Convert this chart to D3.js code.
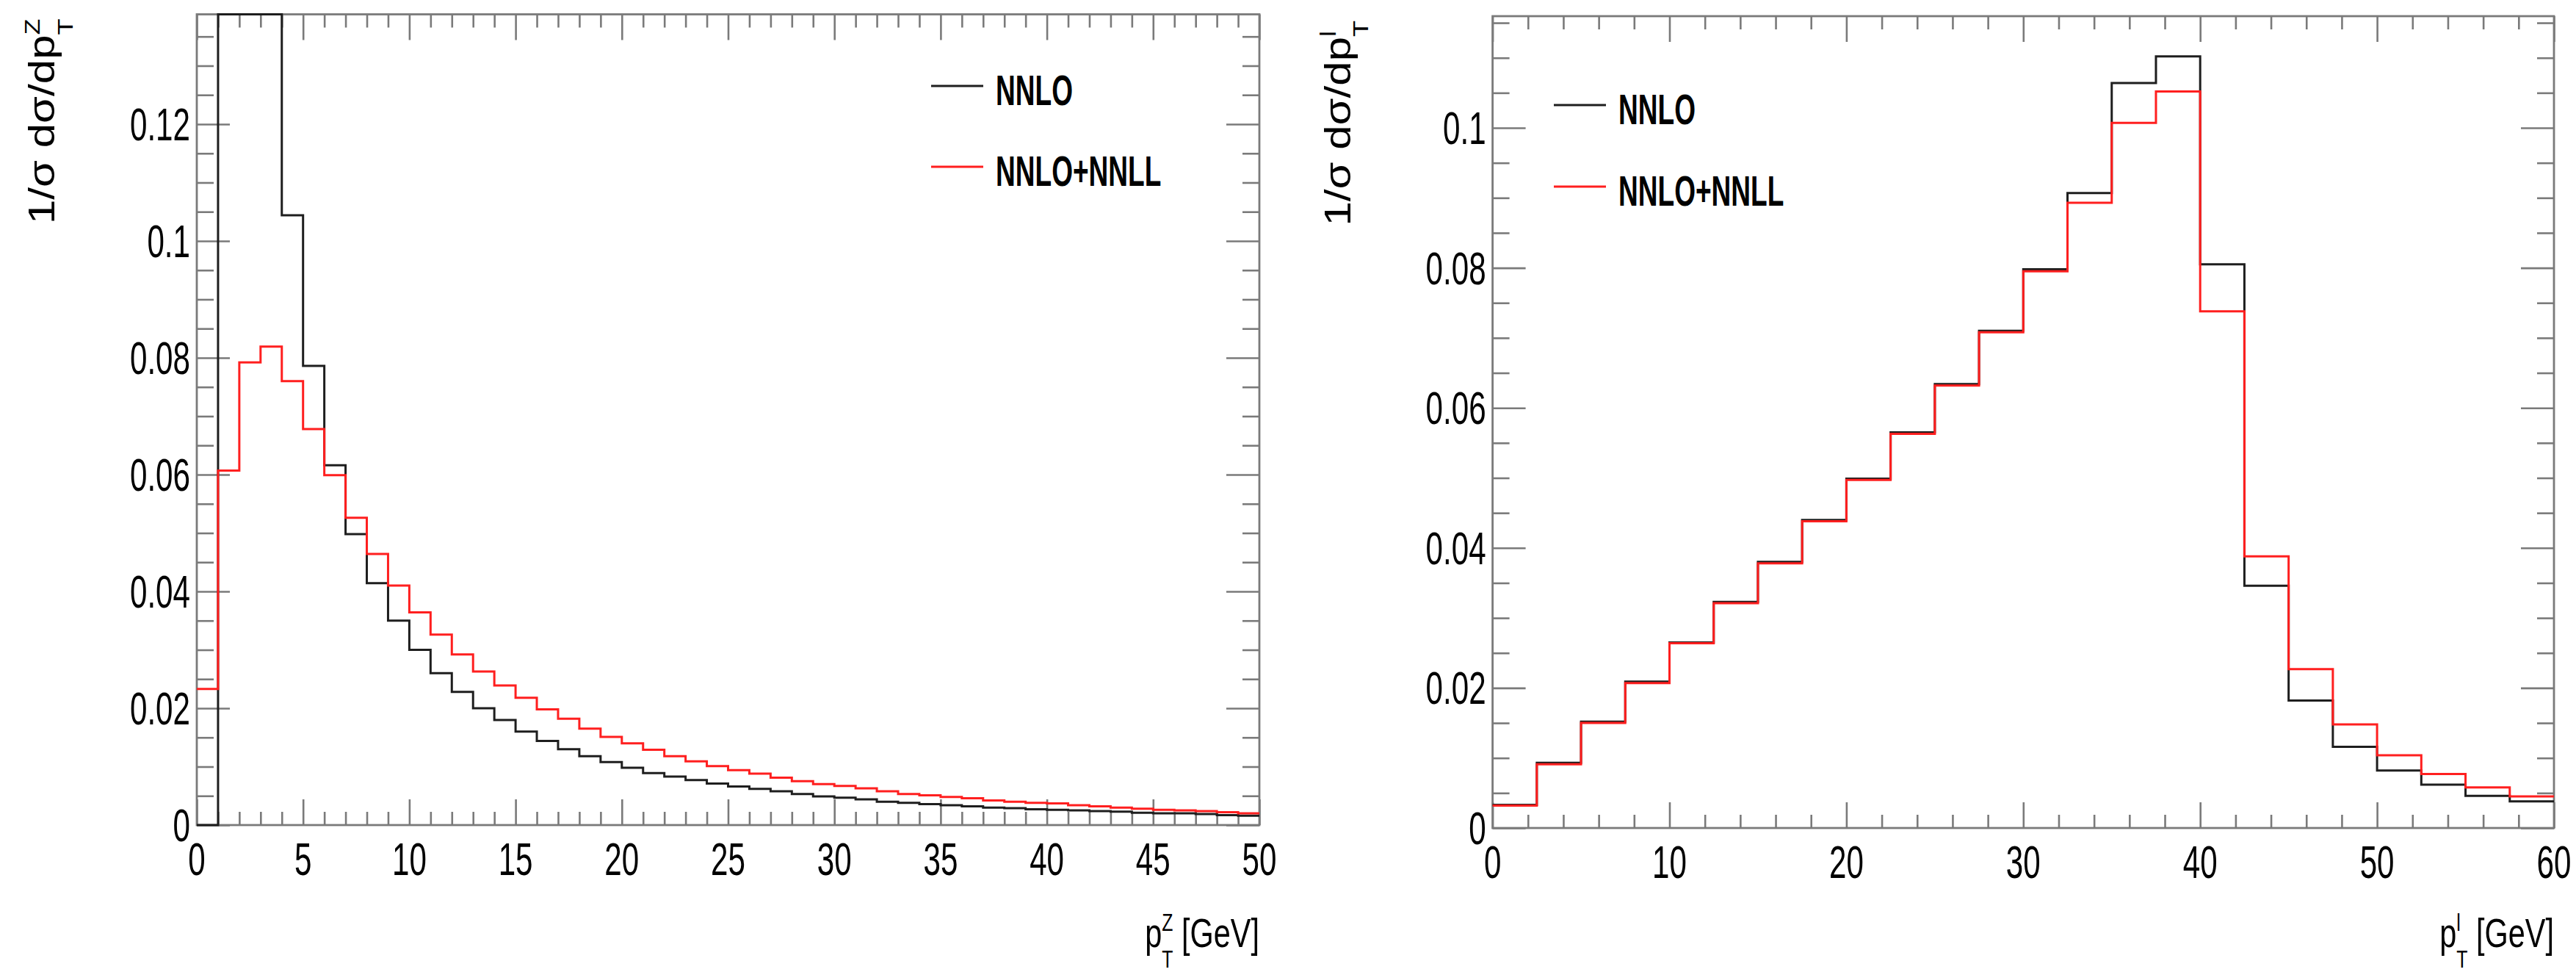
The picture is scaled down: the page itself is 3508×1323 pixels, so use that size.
<!DOCTYPE html>
<html><head><meta charset="utf-8">
<script src="https://cdn.jsdelivr.net/npm/d3@7"></script>
<style>
body{margin:0;background:#fff;}
svg{display:block;}
text{font-family:"Liberation Sans",Arial,Helvetica,sans-serif;fill:#000;}
</style>
</head><body>
<svg id="chart" width="3508" height="1323"></svg>
<script>
// ---------------- DATA ----------------
// Left panel: Z-boson transverse momentum, 1 GeV bins from 0 to 50
const zBinEdges = d3.range(0, 51, 1);
const zNNLO = [0.0000, 0.1650, 0.1780, 0.1460, 0.1044, 0.0786, 0.0616, 0.0498, 0.0414, 0.0350,
               0.0300, 0.0260, 0.0228, 0.0200, 0.0180, 0.0160, 0.0144, 0.0130, 0.0118, 0.0108,
               0.0098, 0.0089, 0.0083, 0.0077, 0.0071, 0.0066, 0.0062, 0.0058, 0.0053, 0.0049,
               0.0047, 0.0044, 0.0040, 0.0038, 0.0036, 0.0034, 0.0032, 0.0030, 0.0029, 0.0027,
               0.0026, 0.0025, 0.0024, 0.0023, 0.0021, 0.0020, 0.0020, 0.0019, 0.0017, 0.0016];
const zNNLL = [0.0233, 0.0607, 0.0792, 0.0819, 0.0760, 0.0678, 0.0599, 0.0526, 0.0464, 0.0410,
               0.0364, 0.0326, 0.0292, 0.0263, 0.0239, 0.0218, 0.0198, 0.0182, 0.0165, 0.0151,
               0.0140, 0.0129, 0.0118, 0.0109, 0.0101, 0.0094, 0.0088, 0.0081, 0.0075, 0.0070,
               0.0067, 0.0063, 0.0058, 0.0053, 0.0051, 0.0048, 0.0046, 0.0042, 0.0040, 0.0038,
               0.0037, 0.0034, 0.0032, 0.0030, 0.0028, 0.0026, 0.0025, 0.0024, 0.0022, 0.0020];
const zXTicks = [0, 5, 10, 15, 20, 25, 30, 35, 40, 45, 50];
const zXTickLabels = ["0", "5", "10", "15", "20", "25", "30", "35", "40", "45", "50"];
const zYTicks = [0, 0.02, 0.04, 0.06, 0.08, 0.1, 0.12];
const zYTickLabels = ["0", "0.02", "0.04", "0.06", "0.08", "0.1", "0.12"];

// Right panel: lepton transverse momentum, 2.5 GeV bins from 0 to 60
const lBinEdges = d3.range(0, 60.01, 2.5);
const lNNLO = [0.0033, 0.0093, 0.0152, 0.0209, 0.0265, 0.0323, 0.0380, 0.0440, 0.0499, 0.0565,
               0.0634, 0.0710, 0.0798, 0.0907, 0.1064, 0.1102, 0.0805, 0.0346, 0.0182, 0.0116,
               0.0082, 0.0062, 0.0046, 0.0038];
const lNNLL = [0.0032, 0.0091, 0.0150, 0.0207, 0.0264, 0.0321, 0.0378, 0.0438, 0.0497, 0.0563,
               0.0632, 0.0708, 0.0795, 0.0893, 0.1007, 0.1052, 0.0738, 0.0388, 0.0227, 0.0148,
               0.0104, 0.0077, 0.0058, 0.0045];
const lXTicks = [0, 10, 20, 30, 40, 50, 60];
const lXTickLabels = ["0", "10", "20", "30", "40", "50", "60"];
const lYTicks = [0, 0.02, 0.04, 0.06, 0.08, 0.1];
const lYTickLabels = ["0", "0.02", "0.04", "0.06", "0.08", "0.1"];

const seriesNames = ["NNLO", "NNLO+NNLL"];

// ---------------- DRAWING ----------------
const svg = d3.select("#chart");
const COL_BLACK = "#1e1e1e", COL_RED = "#ff1f1f", COL_FRAME = "#7a7a7a";
const TICK_FS = 62, TICK_SX = 0.68;

function stepPoints(edges, vals) {
  const pts = [];
  vals.forEach((v, i) => { pts.push([edges[i], v]); pts.push([edges[i + 1], v]); });
  return pts;
}

function scaledText(g, x, y, anchor, fs, sx, weight) {
  return g.append("text")
    .attr("transform", `translate(${x},${y}) scale(${sx},1)`)
    .attr("text-anchor", anchor)
    .style("font-size", fs + "px")
    .style("font-weight", weight || "normal");
}

function panel(cfg) {
  const g = svg.append("g");
  const x = d3.scaleLinear().domain(cfg.xDomain).range([cfg.left, cfg.right]);
  const y = d3.scaleLinear().domain(cfg.yDomain).range([cfg.bottom, cfg.top]);
  const yClamped = y.copy().clamp(true);

  const styleAxis = sel => {
    sel.select(".domain").remove();
    sel.selectAll("line").attr("stroke", COL_FRAME).attr("stroke-width", 2.6);
    sel.selectAll("text").remove();
  };
  // x ticks bottom / top
  const xMinor = d3.range(cfg.xDomain[0], cfg.xDomain[1] + 1e-9, cfg.xMinor).filter(v => !cfg.xTicks.some(t => Math.abs(t - v) < 1e-9));
  g.append("g").attr("transform", `translate(0,${cfg.bottom})`).call(d3.axisBottom(x).tickValues(xMinor).tickSize(-18).tickFormat("")).call(styleAxis);
  g.append("g").attr("transform", `translate(0,${cfg.bottom})`).call(d3.axisBottom(x).tickValues(cfg.xTicks).tickSize(-35).tickFormat("")).call(styleAxis);
  g.append("g").attr("transform", `translate(0,${cfg.top})`).call(d3.axisTop(x).tickValues(xMinor).tickSize(-18).tickFormat("")).call(styleAxis);
  g.append("g").attr("transform", `translate(0,${cfg.top})`).call(d3.axisTop(x).tickValues(cfg.xTicks).tickSize(-35).tickFormat("")).call(styleAxis);
  // y ticks left / right
  const yMinor = d3.range(0, cfg.yDomain[1], 0.005).map(v => +v.toFixed(4)).filter(v => !cfg.yTicks.some(t => Math.abs(t - v) < 1e-9));
  g.append("g").attr("transform", `translate(${cfg.left},0)`).call(d3.axisLeft(y).tickValues(yMinor).tickSize(-23).tickFormat("")).call(styleAxis);
  g.append("g").attr("transform", `translate(${cfg.left},0)`).call(d3.axisLeft(y).tickValues(cfg.yTicks).tickSize(-45).tickFormat("")).call(styleAxis);
  g.append("g").attr("transform", `translate(${cfg.right},0)`).call(d3.axisRight(y).tickValues(yMinor).tickSize(-23).tickFormat("")).call(styleAxis);
  g.append("g").attr("transform", `translate(${cfg.right},0)`).call(d3.axisRight(y).tickValues(cfg.yTicks).tickSize(-45).tickFormat("")).call(styleAxis);

  // histograms (values above the frame are drawn along the frame top, as ROOT does)
  const line = d3.line().x(d => x(d[0])).y(d => yClamped(d[1]));
  const hg = g.append("g");
  hg.append("path").attr("d", line(stepPoints(cfg.edges, cfg.black)))
    .attr("fill", "none").attr("stroke", COL_BLACK).attr("stroke-width", 3);
  hg.append("path").attr("d", line(stepPoints(cfg.edges, cfg.red)))
    .attr("fill", "none").attr("stroke", COL_RED).attr("stroke-width", 3);

  // frame
  g.append("rect").attr("x", cfg.left).attr("y", cfg.top)
    .attr("width", cfg.right - cfg.left).attr("height", cfg.bottom - cfg.top)
    .attr("fill", "none").attr("stroke", COL_FRAME).attr("stroke-width", 2.8);
  // redraw histograms above frame so the clipped top segment stays dark
  hg.raise();

  // tick labels
  cfg.xTicks.forEach((t, i) => scaledText(g, x(t), cfg.bottom + 68, "middle", TICK_FS, TICK_SX).text(cfg.xTickLabels[i]));
  cfg.yTicks.forEach((t, i) => scaledText(g, cfg.left - 9, y(t) + 22, "end", TICK_FS, TICK_SX).text(cfg.yTickLabels[i]));

  // x title
  const F = 56;
  const xt = scaledText(g, cfg.right, 1289, "end", F, 0.74);
  xt.append("tspan").text("p");
  xt.append("tspan").attr("dy", -0.4 * F).style("font-size", 0.6 * F + "px").text(cfg.sup);
  xt.append("tspan").attr("dx", -cfg.supW * 0.6 * F).attr("dy", 0.9 * F).style("font-size", 0.6 * F + "px").text("T");
  xt.append("tspan").attr("dy", -0.5 * F).text(" [GeV]");

  // y title (rotated)
  const YF = 60;
  const yt = g.append("text")
    .attr("transform", `translate(${cfg.left - 194},${cfg.top + 6}) rotate(-90) scale(1,0.82)`)
    .attr("text-anchor", "end").style("font-size", YF + "px");
  yt.append("tspan").text("1/σ  dσ/dp");
  yt.append("tspan").attr("dy", -0.4 * YF).style("font-size", 0.6 * YF + "px").text(cfg.sup);
  yt.append("tspan").attr("dx", -cfg.supW * 0.6 * YF).attr("dy", 0.9 * YF).style("font-size", 0.6 * YF + "px").text("T");

  // legend
  const LF = 57;
  [COL_BLACK, COL_RED].forEach((c, i) => {
    const ly = cfg.legY[i];
    g.append("line").attr("x1", cfg.legX).attr("x2", cfg.legX + 71)
      .attr("y1", ly).attr("y2", ly).attr("stroke", c).attr("stroke-width", 3);
    scaledText(g, cfg.legX + 88, ly + 26, "start", LF, 0.65, "bold").text(seriesNames[i]);
  });
}

panel({
  id: "Z", left: 268, right: 1715, top: 19.5, bottom: 1123,
  xDomain: [0, 50], yDomain: [0, 0.1388], xMinor: 1,
  edges: zBinEdges, black: zNNLO, red: zNNLL,
  xTicks: zXTicks, xTickLabels: zXTickLabels, yTicks: zYTicks, yTickLabels: zYTickLabels,
  sup: "Z", supW: 0.611, legX: 1268, legY: [117, 227]
});
panel({
  id: "L", left: 2032.6, right: 3478, top: 22, bottom: 1127,
  xDomain: [0, 60], yDomain: [0, 0.11595], xMinor: 2,
  edges: lBinEdges, black: lNNLO, red: lNNLL,
  xTicks: lXTicks, xTickLabels: lXTickLabels, yTicks: lYTicks, yTickLabels: lYTickLabels,
  sup: "l", supW: 0.222, legX: 2116, legY: [143, 254]
});
</script>
</body></html>
